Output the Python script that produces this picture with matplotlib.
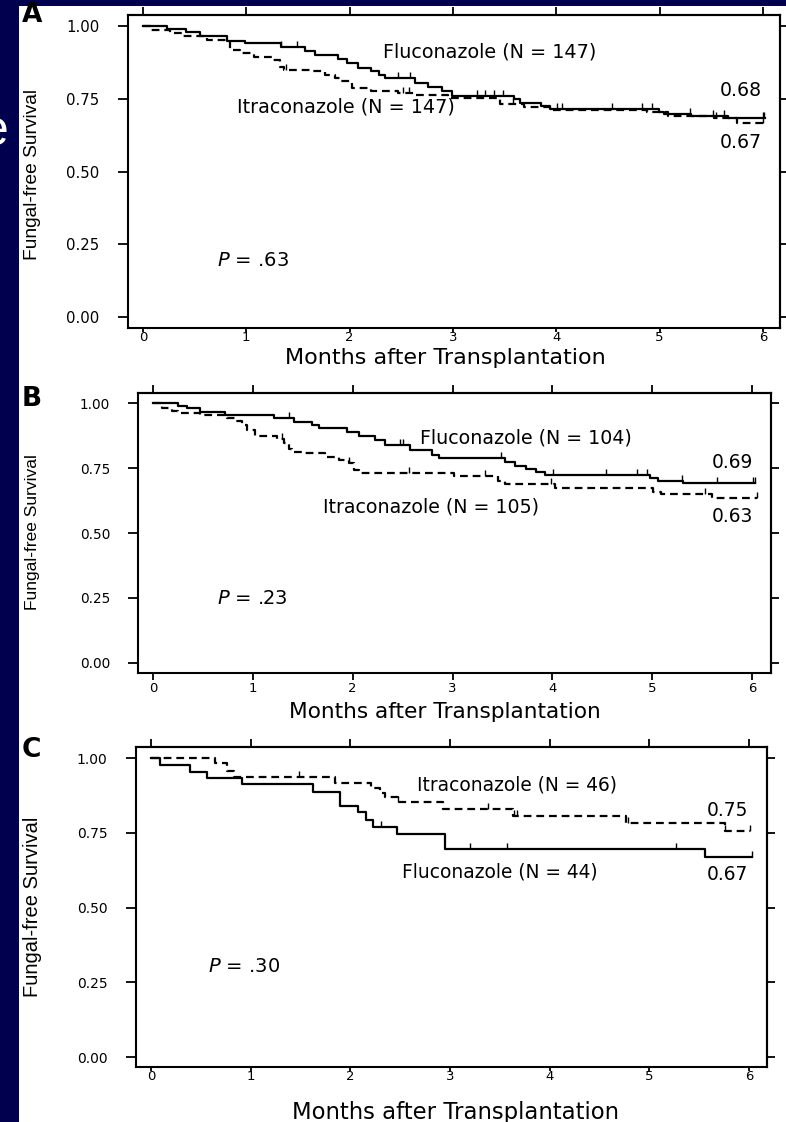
import numpy as np
import matplotlib
matplotlib.use("Agg")
import matplotlib.pyplot as plt
from matplotlib.patches import Rectangle

W, H = 786, 1122

# ---- panel A: all patients (147 vs 147)
a_flu_t = [0, 0.23, 0.42, 0.55, 0.81, 0.99, 1.34, 1.57, 1.66, 1.89, 1.97, 2.08, 2.21, 2.28,
           2.34, 2.63, 2.76, 2.89, 2.99, 3.59, 3.65, 3.85, 3.94, 4.99, 5.04, 5.30, 5.66, 6.02]
a_flu_s = [1.0, 0.99, 0.98, 0.966, 0.947, 0.94, 0.928, 0.915, 0.90, 0.885, 0.873, 0.857, 0.844, 0.833,
           0.822, 0.805, 0.789, 0.777, 0.758, 0.748, 0.735, 0.724, 0.716, 0.704, 0.698, 0.690, 0.683, 0.683]
a_flu_cens = [1.34, 1.49, 2.47, 2.58, 3.23, 3.31, 3.40, 3.48, 4.01, 4.06, 4.54, 4.83, 4.93,
              5.29, 5.52, 5.62, 6.0, 6.01]
a_itr_t = [0, 0.08, 0.26, 0.375, 0.62, 0.84, 0.94, 1.07, 1.26, 1.33, 1.36, 1.63, 1.76, 1.86,
           1.92, 2.02, 2.21, 2.47, 2.63, 2.95, 3.46, 3.69, 3.94, 4.88, 5.08, 5.53, 5.75, 6.02]
a_itr_s = [1.0, 0.986, 0.975, 0.966, 0.952, 0.918, 0.906, 0.894, 0.883, 0.86, 0.85, 0.844, 0.833, 0.821,
           0.81, 0.787, 0.776, 0.77, 0.764, 0.753, 0.732, 0.72, 0.713, 0.703, 0.69, 0.684, 0.667, 0.667]
a_itr_cens = [1.38, 2.52, 2.57, 3.58, 5.55, 6.0]

# ---- panel B (104 vs 105)
b_flu_t = [0, 0.25, 0.34, 0.47, 0.72, 1.21, 1.41, 1.59, 1.66, 1.94, 2.06, 2.22, 2.32, 2.57,
           2.79, 2.86, 3.53, 3.63, 3.74, 3.84, 3.93, 4.98, 5.06, 5.31, 6.03]
b_flu_s = [1.0, 0.99, 0.98, 0.964, 0.954, 0.943, 0.928, 0.915, 0.905, 0.887, 0.874, 0.858, 0.838, 0.819,
           0.80, 0.787, 0.774, 0.759, 0.746, 0.733, 0.723, 0.713, 0.70, 0.691, 0.691]
b_flu_cens = [1.36, 2.47, 2.50, 3.49, 4.01, 4.54, 4.85, 4.95, 5.30, 5.65, 6.01, 6.03]
b_itr_t = [0, 0.09, 0.19, 0.25, 0.47, 0.74, 0.82, 0.89, 0.94, 1.02, 1.24, 1.31, 1.36, 1.39,
           1.52, 1.72, 1.86, 1.96, 2.01, 2.06, 3.01, 3.46, 3.53, 4.03, 5.01, 5.09, 5.60, 6.05]
b_itr_s = [1.0, 0.98, 0.969, 0.96, 0.954, 0.943, 0.931, 0.915, 0.896, 0.874, 0.862, 0.845, 0.823, 0.813,
           0.806, 0.794, 0.781, 0.768, 0.742, 0.730, 0.719, 0.70, 0.687, 0.672, 0.659, 0.649, 0.634, 0.634]
b_itr_cens = [1.29, 1.96, 2.56, 3.33, 3.99, 5.53, 6.05]

# ---- panel C (44 vs 46)
c_flu_t = [0, 0.09, 0.39, 0.56, 0.91, 1.63, 1.90, 2.08, 2.16, 2.23, 2.47, 2.95, 5.56, 6.03]
c_flu_s = [1.0, 0.977, 0.954, 0.932, 0.913, 0.885, 0.840, 0.818, 0.793, 0.770, 0.745, 0.696, 0.668, 0.668]
c_flu_cens = [2.31, 3.20, 3.57, 5.27, 6.03]
c_itr_t = [0, 0.64, 0.76, 0.83, 1.85, 2.21, 2.30, 2.35, 2.48, 2.93, 3.63, 4.77, 5.76, 6.01]
c_itr_s = [1.0, 0.982, 0.958, 0.937, 0.915, 0.899, 0.884, 0.871, 0.854, 0.830, 0.806, 0.783, 0.756, 0.756]
c_itr_cens = [1.49, 2.48, 3.38, 3.64, 3.67, 4.79, 5.76, 6.01]

yticks = [0, 0.25, 0.5, 0.75, 1.0]
ytick_labels = ["0.00", "0.25", "0.50", "0.75", "1.00"]
xticks = [0, 1, 2, 3, 4, 5, 6]

NAVY = "#00004e"

fig = plt.figure(figsize=(W / 100, H / 100), dpi=100, facecolor=NAVY)
fig.add_artist(Rectangle((19 / W, 0), 1 - 19 / W, 1 - 6 / H, transform=fig.transFigure,
                         facecolor="white", edgecolor="none", zorder=-5))


def fx(x):
    return x / W


def fy(y):
    return 1 - y / H


def km(ax, t, s, cens, dashed):
    ls = (0, (3.5, 2.2)) if dashed else "-"
    ax.step(t, s, where="post", color="black", lw=1.6, ls=ls)
    idx = np.searchsorted(t, cens, side="right") - 1
    ax.plot(cens, np.asarray(s)[idx], ls="none", marker=[(0, 0), (0, 1)],
            ms=9, mew=1.0, color="black")


def panel(box, xlim, ylim, tick_fs, tick_pad, xpad, xlen):
    l, r, t, b = box
    ax = fig.add_axes([fx(l), fy(b), (r - l) / W, (b - t) / H])
    ax.set_facecolor("none")
    ax.set_xlim(*xlim)
    ax.set_ylim(*ylim)
    ax.set_xticks(xticks)
    ax.set_yticks(yticks)
    ax.set_yticklabels(ytick_labels)
    for sp in ax.spines.values():
        sp.set_linewidth(1.5)
    ax.tick_params(axis="y", length=7, width=1.3, pad=tick_pad, labelsize=tick_fs)
    ax.tick_params(axis="x", length=xlen, width=1.3, pad=xpad, labelsize=9.5)
    top = ax.secondary_xaxis("top")
    top.set_xticks(xticks)
    top.tick_params(length=6, width=1.3, labeltop=False)
    top.spines["top"].set_linewidth(1.5)
    right = ax.secondary_yaxis("right")
    right.set_yticks(yticks)
    right.tick_params(length=6, width=1.3, labelright=False)
    right.spines["right"].set_linewidth(1.5)
    return ax


def label(x, y, s, fs, **kw):
    fig.text(fx(x), fy(y), s, fontsize=fs, va="center", ha="left", **kw)


# panel A
axA = panel((128, 780, 15, 328), (-0.145, 6.165), (-0.0378, 1.0378), 10.7, 13.5, -0.5, 3)
km(axA, a_flu_t, a_flu_s, a_flu_cens, False)
km(axA, a_itr_t, a_itr_s, a_itr_cens, True)
label(383, 52, "Fluconazole (N = 147)", 13.8)
label(237, 107, "Itraconazole (N = 147)", 13.8)
label(720, 90, "0.68", 13.6)
label(720, 142, "0.67", 13.6)
label(217, 260, r"$P$ = .63", 14)

# panel B
axB = panel((138, 771, 393, 673), (-0.150, 6.19), (-0.0385, 1.0385), 9.8, 13, 1.5, 5)
km(axB, b_flu_t, b_flu_s, b_flu_cens, False)
km(axB, b_itr_t, b_itr_s, b_itr_cens, True)
label(420, 438, "Fluconazole (N = 104)", 13.7)
label(323, 507, "Itraconazole (N = 105)", 13.7)
label(712, 462, "0.69", 13.4)
label(712, 517, "0.63", 13.4)
label(217, 598, r"$P$ = .23", 14)

# panel C
axC = panel((136, 767, 747, 1067), (-0.150, 6.18), (-0.0334, 1.0368), 10, 13.5, -0.5, 3)
km(axC, c_flu_t, c_flu_s, c_flu_cens, False)
km(axC, c_itr_t, c_itr_s, c_itr_cens, True)
label(417, 785, "Itraconazole (N = 46)", 13.4)
label(402, 872, "Fluconazole (N = 44)", 13.4)
label(707, 811, "0.75", 13.4)
label(707, 875, "0.67", 13.4)
label(208, 967, r"$P$ = .30", 14)

# axis titles
for xc, yb, fs in [(445, 364, 16.0), (445, 718, 15.6), (456, 1119, 16.4)]:
    fig.text(fx(xc), fy(yb), "Months after Transplantation", fontsize=fs,
             ha="center", va="baseline")
for yc, fs in [(174, 13.8), (532, 12.5), (907, 14.5)]:
    fig.text(fx(33), fy(yc), "Fungal-free Survival", fontsize=fs, rotation=90,
             ha="center", va="center", family=["Liberation Sans", "DejaVu Sans"])

# panel letters
for s, yc in [("A", 15), ("B", 399), ("C", 750)]:
    fig.text(fx(22), fy(yc), s, fontsize=19, fontweight="bold", ha="left", va="center")

# piece of the slide title cut off at the left edge
fig.text(fx(9), fy(132), "e", fontsize=36, color="white", ha="right", va="center",
         family=["Liberation Sans", "DejaVu Sans"])

fig.savefig("out.png", dpi=100, facecolor=NAVY)
